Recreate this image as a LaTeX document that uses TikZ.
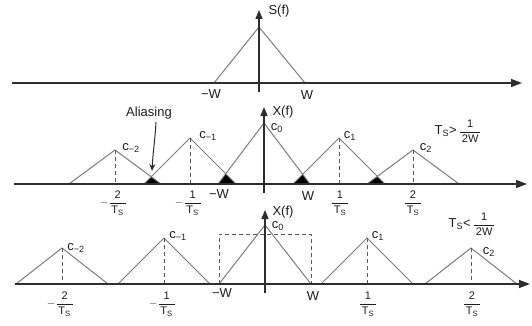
\documentclass[tikz,border=0pt]{standalone}
\usepackage{amsmath}
\usepackage{fontspec}
\setmainfont{Liberation Sans}
\usetikzlibrary{arrows.meta}
\newcommand{\fr}[2]{$\dfrac{\text{\,#1\,}}{\text{\,#2\,}}$}
\newcommand{\nfr}[2]{$-\dfrac{\text{\,#1\,}}{\text{\,#2\,}}$}
\newcommand{\TS}{T\textsubscript{S}}
\definecolor{axisc}{HTML}{2E2E2E}
\definecolor{specc}{HTML}{7C7C7C}
\definecolor{dashc}{HTML}{5A5A5A}
\definecolor{txtc}{HTML}{1E1E1E}
\begin{document}
\begin{tikzpicture}[x=1pt,y=-1pt,
  haxis/.style={draw=axisc, line width=1.4pt, -{Triangle[length=11pt,width=8pt]}},
  vaxis/.style={draw=axisc, line width=1.4pt, -{Triangle[length=9pt,width=7pt]}},
  spec/.style={draw=specc, line width=1pt, line join=miter},
  dline/.style={draw=dashc, line width=1pt, dash pattern=on 4pt off 3pt},
  lbl/.style={font=\fontsize{13}{15}\selectfont, text=txtc, inner sep=0pt},
  frc/.style={font=\fontsize{11}{13}\selectfont, text=txtc, inner sep=0pt},
  ovl/.style={fill=black}]
\useasboundingbox (0,0) rectangle (532,326);

% ---------------- panel 1 ----------------
\coordinate (a1l) at (12,83);
\coordinate (a1r) at (522,83);
\coordinate (v1b) at (259,92);
\coordinate (v1t) at (259,10);
\draw[spec] (214,83) -- (259,27) -- (305,83);
\draw[haxis] (a1l) -- (a1r);
\draw[vaxis] (v1b) -- (v1t);
\node[lbl] (sf) at (279,11) {S(f)};
\node[lbl] (mw1) at (211,94) {−W};
\node[lbl] (w1) at (307,95) {W};

% ---------------- panel 2 ----------------
\coordinate (a2l) at (14,184);
\coordinate (a2r) at (527,184);
\coordinate (v2b) at (264,193);
\coordinate (v2t) at (264,107);
% overlaps (aliasing)
\begin{scope}\clip (69,184) -- (115,150) -- (161,184) -- cycle;
  \fill[ovl] (144,184) -- (190,138) -- (236,184) -- cycle;\end{scope}
\begin{scope}\clip (144,184) -- (190,138) -- (236,184) -- cycle;
  \fill[ovl] (218,184) -- (264,123) -- (310,184) -- cycle;\end{scope}
\begin{scope}\clip (218,184) -- (264,123) -- (310,184) -- cycle;
  \fill[ovl] (293,184) -- (339,138) -- (385,184) -- cycle;\end{scope}
\begin{scope}\clip (293,184) -- (339,138) -- (385,184) -- cycle;
  \fill[ovl] (367,184) -- (413,150) -- (459,184) -- cycle;\end{scope}
\draw[spec] (69,184) -- (115,150) -- (161,184);
\draw[spec] (144,184) -- (190,138) -- (236,184);
\draw[spec] (218,184) -- (264,123) -- (310,184);
\draw[spec] (293,184) -- (339,138) -- (385,184);
\draw[spec] (367,184) -- (413,150) -- (459,184);
\draw[dline] (115,150) -- (115,184);
\draw[dline] (190,138) -- (190,184);
\draw[dline] (339,138) -- (339,184);
\draw[dline] (413,150) -- (413,184);
\draw[haxis] (a2l) -- (a2r);
\draw[vaxis] (v2b) -- (v2t);
\node[lbl] (xf2) at (283,112) {X(f)};
\node[lbl] (c02) at (277,128) {c\textsubscript{0}};
\node[lbl] (cm22) at (131,148) {c\textsubscript{−2}};
\node[lbl] (cm12) at (208,136) {c\textsubscript{−1}};
\node[lbl] (c12) at (350,136) {c\textsubscript{1}};
\node[lbl] (c22) at (426,148) {c\textsubscript{2}};
\node[lbl] (ts2) at (458,131) {\TS{}>\,{\fontsize{11}{13}\selectfont\fr{1}{2W}}};
\node[lbl] (alias) at (149,113) {Aliasing};
\coordinate (ov1) at (152,171);
\draw[draw=axisc, line width=1pt, -{Stealth[length=7pt,width=6pt]}] (156,122) .. controls (155,140) and (153,152) .. (ov1);
\node[lbl] (mw2) at (219,194) {−W};
\node[lbl] (w2) at (308,196) {W};
\node[frc, anchor=east] (fm22) at (127,203) {\nfr{2}{\TS}};
\node[frc, anchor=east] (fm12) at (202,203) {\nfr{1}{\TS}};
\node[frc] (f12) at (340,203) {\fr{1}{\TS}};
\node[frc] (f22) at (413,203) {\fr{2}{\TS}};

% ---------------- panel 3 ----------------
\coordinate (a3l) at (15,284);
\coordinate (a3r) at (530,284);
\coordinate (v3b) at (265,293);
\coordinate (v3t) at (265,210);
\draw[spec] (16,284) -- (62,248) -- (108,284);
\draw[spec] (118,284) -- (164,238) -- (210,284);
\draw[spec] (219,284) -- (265,225) -- (311,284);
\draw[spec] (321,284) -- (367,238) -- (413,284);
\draw[spec] (425,284) -- (471,248) -- (517,284);
\draw[dline] (62,248) -- (62,284);
\draw[dline] (164,238) -- (164,284);
\draw[dline] (367,238) -- (367,284);
\draw[dline] (471,248) -- (471,284);
\draw[dline] (219,284) -- (219,234) -- (311,234) -- (311,284);
\draw[haxis] (a3l) -- (a3r);
\draw[vaxis] (v3b) -- (v3t);
\node[lbl] (xf3) at (283,212) {X(f)};
\node[lbl] (c03) at (278,226) {c\textsubscript{0}};
\node[lbl] (cm23) at (76,248) {c\textsubscript{−2}};
\node[lbl] (cm13) at (178,236) {c\textsubscript{−1}};
\node[lbl] (c13) at (378,236) {c\textsubscript{1}};
\node[lbl] (c23) at (489,252) {c\textsubscript{2}};
\node[lbl] (ts3) at (472,224) {\TS{}<\,{\fontsize{11}{13}\selectfont\fr{1}{2W}}};
\node[lbl] (mw3) at (222,293) {−W};
\node[lbl] (w3) at (313,296) {W};
\node[frc, anchor=east] (fm23) at (74,304) {\nfr{2}{\TS}};
\node[frc, anchor=east] (fm13) at (176,304) {\nfr{1}{\TS}};
\node[frc] (f13) at (368,304) {\fr{1}{\TS}};
\node[frc] (f23) at (472,304) {\fr{2}{\TS}};
\end{tikzpicture}
\end{document}
